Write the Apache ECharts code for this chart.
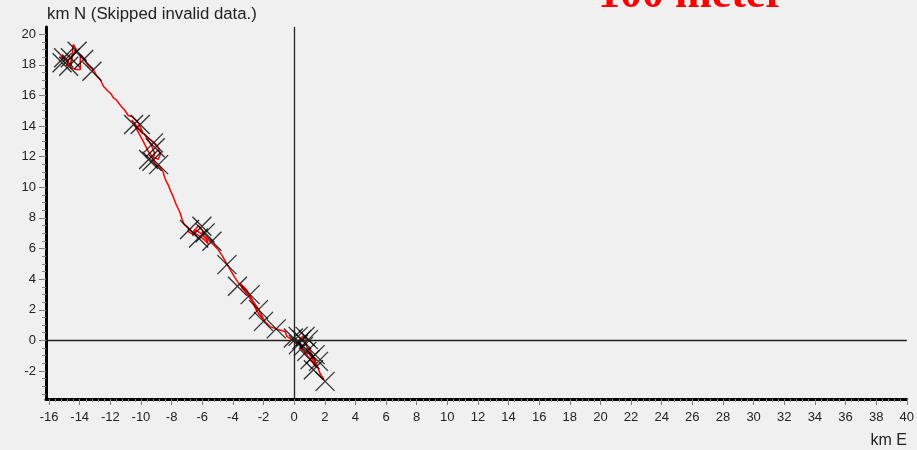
<!DOCTYPE html>
<html>
<head>
<meta charset="utf-8">
<script src="https://cdn.jsdelivr.net/npm/echarts@6/dist/echarts.min.js"></script>
<style>
html,body{margin:0;padding:0;background:#f0f0f0;}
#main{width:917px;height:450px;}
</style>
</head>
<body>
<div id="main"></div>
<script>
// Track (km E, km N)
var trackE = [-15.26,-15.0,-15.13,-14.74,-14.87,-14.61,-14.48,-14.42,-14.22,-14.48,-14.61,-14.22,-13.96,-13.96,-13.70,-13.44,-13.11,
  -12.9,-12.66,-12.45,-12.13,-11.95,-11.81,-11.6,-11.48,-11.3,-11.09,-10.83,-10.57,-10.44,-10.24,-10.05,-9.85,-9.59,-9.39,-9.07,-8.87,-8.74,-8.87,-9.26,
  -9.5,-9.85,-10.18,-10.44,-10.6,-10.2,-9.9,-9.6,-9.3,-9.1,-9.26,-9.0,-8.74,-8.55,-8.45,-8.35,-8.2,-8.09,-7.95,-7.83,-7.7,-7.57,-7.45,-7.31,-7.18,
  -6.91,-6.9,-6.59,-6.4,-6.26,-6.0,-5.94,-5.7,-5.61,-5.9,-6.3,-6.6,-6.5,-6.1,-5.61,-5.28,-4.96,-4.70,-4.44,-4.17,-3.91,-3.65,-3.33,-3.0,-2.74,-2.48,-2.22,-1.89,
  -2.0,-2.3,-2.7,-3.1,-3.5,-3.4,-3.0,-2.6,-2.3,-1.89,-1.57,-1.17,-0.78,-0.59,-0.46,-0.13,0.13,0.39,0.6,0.8,0.65,0.39,0.65,0.91,1.17,1.44,1.3,1.0,0.8,1.0,1.2,1.44,1.70,1.96];
var trackN = [18.54,18.35,18.67,18.22,17.95,18.08,18.67,19.33,19.0,18.54,17.82,17.69,17.69,18.67,18.35,17.95,17.69,
  17.3,17.04,16.6,16.26,16.1,15.86,15.7,15.6,15.3,15.08,14.69,14.62,14.56,14.30,13.97,13.51,13.25,13.12,12.86,12.60,12.14,11.82,12.0,
  12.3,13.0,13.6,14.1,14.4,13.9,13.6,13.2,12.7,12.2,11.82,11.49,11.3,11.0,10.64,10.4,10.11,9.8,9.52,9.2,8.87,8.6,8.35,7.89,7.57,
  7.37,7.1,6.9,7.3,7.5,7.2,6.84,6.58,6.3,6.6,6.9,7.0,7.24,7.0,6.58,6.26,5.93,5.54,5.08,4.62,4.16,3.77,3.38,2.92,2.53,2.01,1.62,1.22,
  1.4,2.0,2.6,3.3,3.7,3.4,3.0,2.3,1.7,1.22,0.9,0.75,0.63,0.57,0.24,0.05,-0.22,0.1,0.3,0.1,-0.3,-0.48,-0.74,-1.07,-1.39,-1.78,-1.4,-0.9,-0.5,-0.6,-1.0,-1.5,-2.18,-2.57];

// Fix markers (km E, km N)
var fixE = [-15.05,-14.72,-14.17,-13.74,-13.20,-15.15,-14.61,-10.48,-10.05,-9.18,-9.07,-9.28,-8.85,-9.50,
  -6.83,-6.02,-5.81,-5.37,-6.24,-4.39,-3.70,-2.87,-2.33,-2.00,-1.17,-0.05,0.50,0.72,0.28,0.83,1.37,1.04,1.59,1.26,2.02,0.26,0.93,0.61];
var fixN = [18.46,17.91,18.89,18.35,17.58,18.13,18.46,14.10,14.10,12.90,12.58,11.70,11.48,11.81,
  7.24,7.45,7.02,6.47,6.69,4.95,3.53,2.99,2.01,1.24,0.75,0.16,0.05,0.26,-0.28,-0.72,-0.93,-1.26,-1.37,-1.92,-2.68,0.26,0.05,-0.39];

var xTickLabels = [];
for (var v = -16; v <= 40; v += 2) xTickLabels.push(v);
var yTickLabels = [];
for (var w = -2; w <= 20; w += 2) yTickLabels.push(w);

var xMin = -16.2, xMax = 40, yMin = -3.83, yMax = 20.47;
var xMinor = [];
for (var i = 0; i <= 140; i++) xMinor.push(Math.round((-16 + i * 0.4) * 10) / 10);
var yMinor = [];
for (var j = 0; j <= 47; j++) yMinor.push(-3.5 + j * 0.5);

var track = trackE.map(function (e, k) { return [e, trackN[k]]; });
var fixes = fixE.map(function (e, k) { return [e, fixN[k]]; });

var chart = echarts.init(document.getElementById('main'), null, {renderer: 'canvas'});
var labelFont = {color: '#222', fontSize: 13, fontFamily: 'Liberation Sans, Arial, sans-serif'};
chart.setOption({
  backgroundColor: '#f0f0f0',
  animation: false,
  grid: {left: 46, right: 9, top: 27, bottom: 51, containLabel: false},
  xAxis: [{
    type: 'value', min: xMin, max: xMax, position: 'bottom',
    axisLine: {show: true, onZero: false, lineStyle: {color: '#000', width: 3}},
    axisTick: {show: true, customValues: xTickLabels, length: 6, lineStyle: {color: '#777', width: 1}},
    axisLabel: Object.assign({customValues: xTickLabels, margin: 12}, labelFont),
    splitLine: {show: false}
  }, {
    type: 'value', min: xMin, max: xMax, position: 'bottom', offset: 0,
    axisLine: {show: false, onZero: false},
    axisTick: {show: true, customValues: xMinor, length: 3, lineStyle: {color: '#888', width: 1}},
    axisLabel: {show: false}, splitLine: {show: false}
  }],
  yAxis: [{
    type: 'value', min: yMin, max: yMax, position: 'left',
    axisLine: {show: true, onZero: false, lineStyle: {color: '#000', width: 3}},
    axisTick: {show: true, customValues: yTickLabels, length: 7, lineStyle: {color: '#777', width: 1}},
    axisLabel: Object.assign({customValues: yTickLabels, margin: 10}, labelFont),
    splitLine: {show: false}
  }, {
    type: 'value', min: yMin, max: yMax, position: 'left', offset: 0,
    axisLine: {show: false, onZero: false},
    axisTick: {show: true, customValues: yMinor, length: 4, lineStyle: {color: '#888', width: 1}},
    axisLabel: {show: false}, splitLine: {show: false}
  }],
  series: [{
    type: 'line', data: track, xAxisIndex: 0, yAxisIndex: 0,
    showSymbol: false, symbol: 'none', smooth: false,
    lineStyle: {color: '#ff0000', width: 1.5},
    z: 3,
    markLine: {
      silent: true, symbol: ['none', 'none'], label: {show: false},
      lineStyle: {color: '#222', width: 1.3, type: 'solid'},
      data: [{xAxis: 0}, {yAxis: 0}]
    }
  }, {
    type: 'scatter', data: fixes, xAxisIndex: 0, yAxisIndex: 0,
    symbol: 'path://M0 0L20 20M20 0L0 20', symbolSize: 19,
    itemStyle: {color: 'none', borderColor: '#000', borderWidth: 1.3},
    z: 4
  }],
  graphic: [{
    type: 'text', left: 47, top: 6,
    style: {text: 'km N (Skipped invalid data.)', fill: '#222', font: '16.8px "Liberation Sans", Arial, sans-serif'}
  }, {
    type: 'text', right: 10, top: 433,
    style: {text: 'km E', fill: '#222', font: '16px "Liberation Sans", Arial, sans-serif'}
  }, {
    type: 'text', left: 598, top: -26,
    style: {text: '100 meter', fill: '#ff0000', font: 'bold 44px "Liberation Serif", "Times New Roman", serif'}
  }]
});
</script>
</body>
</html>
